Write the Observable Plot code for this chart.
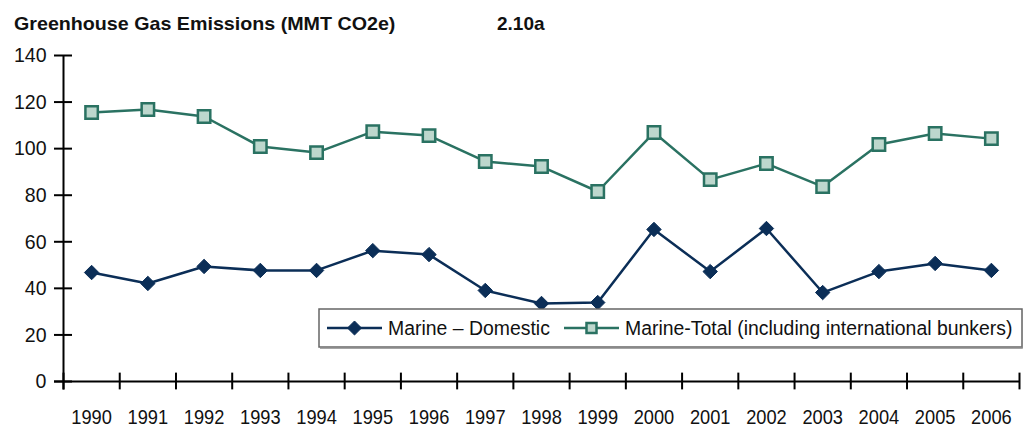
<!DOCTYPE html>
<html>
<head>
<meta charset="utf-8">
<script src="https://cdn.jsdelivr.net/npm/d3@7"></script>
<script src="https://cdn.jsdelivr.net/npm/@observablehq/plot@0.6"></script>
<style>
  html, body { margin: 0; padding: 0; background: #fff; }
  body { width: 1028px; height: 429px; overflow: hidden; font-family: "Liberation Sans", Arial, sans-serif; color: #111; }
  #title { position: relative; height: 40px; font-weight: bold; font-size: 19px; }
  #title span { position: absolute; top: 13px; white-space: nowrap; transform-origin: left center; }
  #chart { position: relative; }
  #legend { position: absolute; }
</style>
</head>
<body>
<div id="title"><span style="left:14px; transform: scaleX(1.035)">Greenhouse Gas Emissions (MMT CO2e)</span><span style="left:497px">2.10a</span></div>
<div id="chart"></div>
<script>
const years = [1990,1991,1992,1993,1994,1995,1996,1997,1998,1999,2000,2001,2002,2003,2004,2005,2006];
const domestic = [46.8,42.1,49.4,47.7,47.7,56.2,54.5,39.1,33.5,33.9,65.3,47.2,65.7,38.2,47.2,50.7,47.7];
const total = [115.5,116.8,113.8,100.9,98.3,107.3,105.6,94.5,92.3,81.6,106.9,86.7,93.6,83.7,101.8,106.5,104.3];
const seriesNames = ["Marine – Domestic", "Marine-Total (including international bunkers)"];
const yTicks = [0,20,40,60,80,100,120,140];

const navy = "#0b2e57";
const teal = "#2a7262";
const tealFill = "#bdd7cd";
const FONT = '"Liberation Sans", Arial, sans-serif';

const rowsDom = years.map((y, i) => ({year: y, value: domestic[i]}));
const rowsTot = years.map((y, i) => ({year: y, value: total[i]}));
const boundaries = d3.range(years[0] - 0.5, years[years.length - 1] + 1, 1);
const x0 = years[0] - 0.5, x1 = years[years.length - 1] + 0.5;

const chart = Plot.plot({
  width: 1028,
  height: 389,
  marginTop: 15,
  marginBottom: 48,
  marginLeft: 63,
  marginRight: 9,
  style: {fontFamily: FONT, fontSize: "21px", color: "#111", background: "white"},
  x: {domain: [x0, x1], axis: null},
  y: {domain: [0, 140], axis: null},
  marks: [
    Plot.ruleX([x0], {y1: -3.6, y2: 140, stroke: "#000", strokeWidth: 2}),
    Plot.ruleY([0], {x1: x0 - 0.16, x2: x1, stroke: "#000", strokeWidth: 2}),
    Plot.ruleY(yTicks, {x1: x0 - 0.16, x2: x0 + 0.16, stroke: "#000", strokeWidth: 2}),
    Plot.ruleX(boundaries, {y1: -3.6, y2: 3.6, stroke: "#000", strokeWidth: 2}),
    Plot.text(yTicks, {x: x0, y: d => d, text: d => String(d), textAnchor: "end", dx: -17, fill: "#111", className: "ylab"}),
    Plot.text(years, {x: d => d, y: 0, text: d => String(d), dy: 36, fill: "#111", className: "xlab"}),
    Plot.line(rowsTot, {x: "year", y: "value", stroke: teal, strokeWidth: 2.5}),
    Plot.dot(rowsTot, {x: "year", y: "value", symbol: "square", r: 7, fill: tealFill, stroke: teal, strokeWidth: 2.5}),
    Plot.line(rowsDom, {x: "year", y: "value", stroke: navy, strokeWidth: 2.5}),
    Plot.dot(rowsDom, {x: "year", y: "value", symbol: "diamond2", r: 6.5, fill: navy, stroke: navy, strokeWidth: 1})
  ]
});
document.getElementById("chart").appendChild(chart);

// condense text horizontally (reference uses a condensed face)
function condense(sel, f) {
  sel.each(function() {
    const w = this.getComputedTextLength();
    if (w > 0) {
      this.setAttribute("textLength", (w * f).toFixed(1));
      this.setAttribute("lengthAdjust", "spacingAndGlyphs");
    }
  });
}
condense(d3.select(chart).selectAll(".xlab text"), 0.87);
condense(d3.select(chart).selectAll(".ylab text"), 0.93);

// legend inside the plot area (bottom right)
const legend = d3.select("#chart").append("div").attr("id", "legend")
  .style("left", "318px").style("top", "268px");
const lsvg = legend.append("svg").attr("width", 705).attr("height", 41)
  .style("font-family", FONT).style("font-size", "21px");
lsvg.append("rect").attr("x", 1).attr("y", 1).attr("width", 703).attr("height", 38)
  .attr("fill", "white").attr("stroke", "#666").attr("stroke-width", 1.5);
lsvg.append("path").attr("d", "M2,40.2 H704.2 V2").attr("fill", "none").attr("stroke", "#888").attr("stroke-width", 1.2);
const items = [
  {name: seriesNames[0], color: navy, fill: navy, sym: d3.symbolDiamond2, size: 125, x: 9, sw: 1},
  {name: seriesNames[1], color: teal, fill: tealFill, sym: d3.symbolSquare, size: 100, x: 246, sw: 2.5}
];
items.forEach(it => {
  const g = lsvg.append("g").attr("transform", `translate(${it.x},20)`);
  g.append("line").attr("x1", 0).attr("x2", 55).attr("stroke", it.color).attr("stroke-width", 2.5);
  g.append("path").attr("d", d3.symbol(it.sym, it.size)()).attr("transform", "translate(27.5,0)")
    .attr("fill", it.fill).attr("stroke", it.color).attr("stroke-width", it.sw);
  g.append("text").attr("transform", "translate(61,0) scale(0.925,1)").attr("dy", "0.35em").attr("fill", "#111").text(it.name);
});
</script>
</body>
</html>
